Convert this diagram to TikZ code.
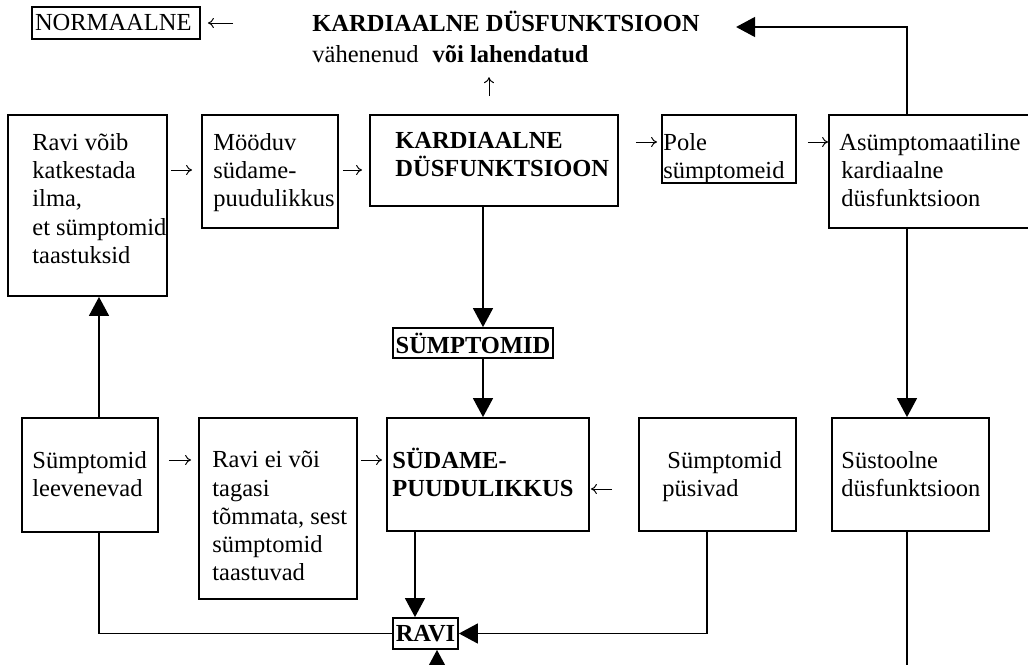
\documentclass[tikz,border=0pt]{standalone}
\usepackage{fontspec}
\setmainfont{Liberation Serif}
\usetikzlibrary{arrows.meta,fit}
\newcommand\diagfs{\fontsize{12.25}{14.1}\selectfont}
\begin{document}
\begin{tikzpicture}[x=0.5pt,y=-0.5pt,
  every node/.append style={font=\diagfs},
  box/.style={draw, line width=0.9pt, inner sep=0pt, rectangle},
  txt/.style={anchor=north west, align=left, inner sep=0pt},
  conn/.style={line width=0.75pt},
  big/.style={conn, -{Triangle[length=9.5pt,width=10pt]}},
  sarrow/.style={line width=0.5pt, -{To[length=3pt,width=5pt]}}]
\useasboundingbox (0,0) rectangle (1028,664);
\clip (0,0) rectangle (1028,664);

% reference coordinates
\coordinate (c99) at (99,0);
\coordinate (c415) at (415,0);
\coordinate (c437) at (437,0);
\coordinate (c483) at (483,0);
\coordinate (c489) at (489,0);
\coordinate (c707) at (707,0);
\coordinate (c907) at (907,0);
\coordinate (r23) at (0,23);
\coordinate (r27) at (0,27);
\coordinate (r142) at (0,142);
\coordinate (r170) at (0,170);
\coordinate (r460) at (0,460);
\coordinate (r489) at (0,489);
\coordinate (bot1) at (907,672);
\coordinate (bot2) at (437,672);

% top line
\node[box, minimum width=84pt, minimum height=16pt, text width=81pt, align=left, inner xsep=1.5pt] (N) at (116,23) {NORMAALNE};
\node[txt] (T) at (312,11) {\textbf{KARDIAALNE DÜSFUNKTSIOON}};
\node[txt] (V) at (312,45) {vähenenud\hspace{4pt} \textbf{või lahendatud}};

% boxes row 1
\node[box, fit={(8,115) (167,296)}] (A) {};
\node[box, fit={(202,115) (338,228)}] (B) {};
\node[box, fit={(370,115) (618,206)}] (C) {};
\node[box, fit={(662,115) (796,183)}] (D) {};
\node[box, fit={(829,115) (1040,228)}] (E) {};
\node[txt] (tA) at (32,133) {Ravi võib\\katkestada\\ilma,\\et sümptomid\\taastuksid};
\node[txt] (tB) at (213,133) {Mööduv\\südame-\\puudulikkus};
\node[txt] (tC) at (395,131.5) {\textbf{KARDIAALNE}\\\textbf{DÜSFUNKTSIOON}};
\node[txt] (tD) at (663,133) {Pole\\sümptomeid};
\node[txt] (tE) at (839,133) {Asümptomaatiline\\\hspace{1pt}kardiaalne\\\hspace{1pt}düsfunktsioon};

% middle
\node[box, minimum width=80pt, minimum height=15pt] (S) at (473,343) {\textbf{SÜMPTOMID}};

% boxes row 2
\node[box, fit={(22,418) (158,532)}] (F) {};
\node[box, fit={(199,418) (357,599)}] (G) {};
\node[box, fit={(387,418) (589,531)}] (H) {};
\node[box, fit={(639,418) (796,531)}] (I) {};
\node[box, fit={(832,418) (989,531)}] (J) {};
\node[txt] (tF) at (32,451) {Sümptomid\\leevenevad};
\node[txt] (tG) at (212,451) {Ravi ei või\\tagasi\\tõmmata, sest\\sümptomid\\taastuvad};
\node[txt] (tH) at (392,447.5) {\textbf{SÜDAME-}\\\textbf{PUUDULIKKUS}};
\node[txt] (tI) at (662,451) {\hspace{2.5pt}Sümptomid\\püsivad};
\node[txt] (tJ) at (841,451) {Süstoolne\\düsfunktsioon};

% RAVI
\node[box, minimum width=32.5pt, minimum height=15.5pt] (R) at (425.5,633.5) {\textbf{RAVI}};

% big connectors
\draw[big, shorten >=18pt] (E.north -| c907) |- (T.east |- r27);
\draw[big] (E.south -| c907) -- (J.north -| c907);
\draw[conn] (J.south -| c907) -- (bot1);
\draw[big] (C.south -| c483) -- (S.north -| c483);
\draw[big] (S.south -| c483) -- (H.north -| c483);
\draw[big] (H.south -| c415) -- (R.north -| c415);
\draw[conn] (F.south -| c99) |- (R.west);
\draw[big] (F.north -| c99) -- (A.south -| c99);
\draw[big] (I.south -| c707) |- (R.east);
\draw[big] (bot2) -- (R.south -| c437);

% small arrows
\draw[sarrow, shorten <=39.5pt, shorten >=3.5pt] (T.west |- r23) -- (N.east |- r23);
\draw[sarrow, shorten <=9pt, shorten >=7pt] (C.north -| c489) -- (V.south -| c489);
\draw[sarrow, shorten <=1.5pt, shorten >=4.5pt] (A.east |- r170) -- (B.west |- r170);
\draw[sarrow, shorten <=2pt, shorten >=3.5pt] (B.east |- r170) -- (C.west |- r170);
\draw[sarrow, shorten <=8.5pt, shorten >=2pt] (C.east |- r142) -- (D.west |- r142);
\draw[sarrow, shorten <=5.5pt, shorten >=0pt] (D.east |- r142) -- (E.west |- r142);
\draw[sarrow, shorten <=5pt, shorten >=3.5pt] (F.east |- r460) -- (G.west |- r460);
\draw[sarrow, shorten <=1.5pt, shorten >=2pt] (G.east |- r460) -- (H.west |- r460);
\draw[sarrow, shorten <=13pt, shorten >=0.5pt] (I.west |- r489) -- (H.east |- r489);
\end{tikzpicture}
\end{document}
